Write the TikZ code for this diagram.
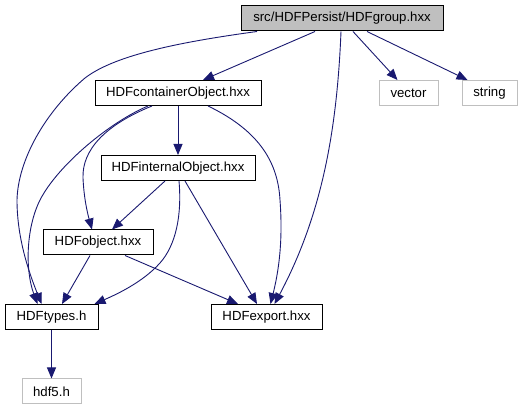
\documentclass[tikz,border=0pt]{standalone}
\usepackage{fontspec}
\setmainfont{Liberation Sans}
\usetikzlibrary{arrows.meta}
\definecolor{edgeblue}{HTML}{191970}
\definecolor{grayfill}{HTML}{BFBFBF}
\definecolor{grayline}{HTML}{BFBFBF}
\begin{document}
\begin{tikzpicture}[x=1pt,y=-1pt,
  box/.style={draw=black,line width=1pt,minimum height=25pt,inner sep=0pt,font=\fontsize{13.2}{15}\selectfont},
  mainbox/.style={box,fill=grayfill},
  extbox/.style={box,draw=grayline},
  dep/.style={draw=edgeblue,line width=0.9pt,-{Triangle[length=11pt,width=9pt]}}]
\useasboundingbox (0,0) rectangle (525,411);
\node[mainbox,minimum width=202pt] (grp) at (342,18.5) {src/HDFPersist/HDFgroup.hxx};
\node[box,minimum width=166pt] (cont) at (178,93) {HDFcontainerObject.hxx};
\node[extbox,minimum width=59pt] (vec) at (408.5,93) {vector};
\node[extbox,minimum width=55pt] (str) at (489.5,93) {string};
\node[box,minimum width=154pt] (intl) at (178,168) {HDFinternalObject.hxx};
\node[box,minimum width=110pt] (obj) at (98,242.5) {HDFobject.hxx};
\node[box,minimum width=93pt] (typ) at (51.5,317) {HDFtypes.h};
\node[box,minimum width=111pt] (exp) at (266.5,317) {HDFexport.hxx};
\node[extbox,minimum width=59pt] (hdf) at (51.5,391.5) {hdf5.h};
% edges
\draw[dep] ([xshift=-85pt]grp.south) .. controls (180,42) and (115,55) .. (85,78)
  .. controls (45,112) and (18,160) .. (17,200) .. controls (17,240) and (30,275) .. ([xshift=-10pt]typ.north);
\draw[dep] ([xshift=-27pt]grp.south) -- ([xshift=25pt]cont.north);
\draw[dep] ([xshift=-1pt]grp.south) .. controls (337,130) and (322,215) .. ([xshift=8pt]exp.north);
\draw[dep] ([xshift=11pt]grp.south) -- ([xshift=-11pt]vec.north);
\draw[dep] ([xshift=25pt]grp.south) -- ([xshift=-22pt]str.north);
\draw[dep] (cont.south) -- (intl.north);
\draw[dep] ([xshift=-26pt]cont.south) .. controls (105,125) and (82,150) .. (83,178)
  .. controls (84,200) and (88,215) .. ([xshift=-6pt]obj.north);
\draw[dep] ([xshift=-30pt]cont.south) .. controls (110,122) and (58,165) .. (40,200)
  .. controls (26,228) and (25,270) .. ([xshift=-14pt]typ.north);
\draw[dep] ([xshift=30pt]cont.south) .. controls (262,132) and (278,165) .. (280,200)
  .. controls (283,240) and (279,270) .. ([xshift=4pt]exp.north);
\draw[dep] ([xshift=-13pt]intl.south) -- ([xshift=14pt]obj.north);
\draw[dep] ([xshift=1pt]intl.south) .. controls (182,215) and (176,245) .. (160,263)
  .. controls (142,283) and (115,295) .. ([xshift=43pt]typ.north);
\draw[dep] ([xshift=7pt]intl.south) -- ([xshift=-9.5pt]exp.north);
\draw[dep] ([xshift=-8pt]obj.south) -- ([xshift=10.5pt]typ.north);
\draw[dep] ([xshift=27pt]obj.south) -- ([xshift=-28.5pt]exp.north);
\draw[dep] (typ.south) -- (hdf.north);
\end{tikzpicture}
\end{document}
